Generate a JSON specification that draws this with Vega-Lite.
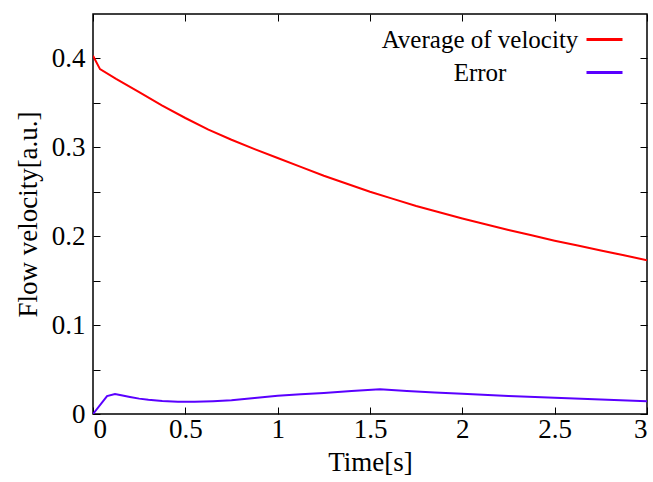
{
  "$schema": "https://vega.github.io/schema/vega-lite/v6.json",
  "width": 554,
  "height": 400,
  "autosize": {"type": "none"},
  "padding": {"left": 93, "top": 14, "right": 6, "bottom": 68},
  "background": "white",
  "config": {
    "view": {"stroke": "#000000", "strokeWidth": 1.5},
    "font": "Liberation Serif",
    "axis": {
      "domain": false,
      "grid": false,
      "tickColor": "#000000",
      "tickWidth": 1,
      "tickSize": -7,
      "labelFont": "Liberation Serif",
      "labelFontSize": 27,
      "labelColor": "#000000",
      "titleFont": "Liberation Serif",
      "titleFontSize": 27,
      "titleFontWeight": "normal",
      "titleColor": "#000000"
    }
  },
  "data": {
    "values": [
      {"t": 0, "v": 0.403, "series": "Average of velocity"},
      {"t": 0.038, "v": 0.388, "series": "Average of velocity"},
      {"t": 0.125, "v": 0.377, "series": "Average of velocity"},
      {"t": 0.25, "v": 0.362, "series": "Average of velocity"},
      {"t": 0.375, "v": 0.347, "series": "Average of velocity"},
      {"t": 0.5, "v": 0.333, "series": "Average of velocity"},
      {"t": 0.625, "v": 0.32, "series": "Average of velocity"},
      {"t": 0.75, "v": 0.3085, "series": "Average of velocity"},
      {"t": 0.875, "v": 0.298, "series": "Average of velocity"},
      {"t": 1.0, "v": 0.288, "series": "Average of velocity"},
      {"t": 1.125, "v": 0.278, "series": "Average of velocity"},
      {"t": 1.25, "v": 0.268, "series": "Average of velocity"},
      {"t": 1.375, "v": 0.259, "series": "Average of velocity"},
      {"t": 1.5, "v": 0.25, "series": "Average of velocity"},
      {"t": 1.625, "v": 0.242, "series": "Average of velocity"},
      {"t": 1.75, "v": 0.234, "series": "Average of velocity"},
      {"t": 1.875, "v": 0.227, "series": "Average of velocity"},
      {"t": 2.0, "v": 0.22, "series": "Average of velocity"},
      {"t": 2.125, "v": 0.2135, "series": "Average of velocity"},
      {"t": 2.25, "v": 0.207, "series": "Average of velocity"},
      {"t": 2.375, "v": 0.201, "series": "Average of velocity"},
      {"t": 2.5, "v": 0.195, "series": "Average of velocity"},
      {"t": 2.625, "v": 0.1895, "series": "Average of velocity"},
      {"t": 2.75, "v": 0.184, "series": "Average of velocity"},
      {"t": 2.875, "v": 0.1785, "series": "Average of velocity"},
      {"t": 3.0, "v": 0.173, "series": "Average of velocity"},
      {"t": 0, "v": 0, "series": "Error"},
      {"t": 0.076, "v": 0.0202, "series": "Error"},
      {"t": 0.119, "v": 0.0225, "series": "Error"},
      {"t": 0.16, "v": 0.0208, "series": "Error"},
      {"t": 0.2, "v": 0.0192, "series": "Error"},
      {"t": 0.25, "v": 0.0173, "series": "Error"},
      {"t": 0.3, "v": 0.016, "series": "Error"},
      {"t": 0.375, "v": 0.0145, "series": "Error"},
      {"t": 0.46, "v": 0.0137, "series": "Error"},
      {"t": 0.55, "v": 0.0137, "series": "Error"},
      {"t": 0.65, "v": 0.0144, "series": "Error"},
      {"t": 0.75, "v": 0.0155, "series": "Error"},
      {"t": 0.875, "v": 0.018, "series": "Error"},
      {"t": 1.0, "v": 0.0205, "series": "Error"},
      {"t": 1.125, "v": 0.0222, "series": "Error"},
      {"t": 1.25, "v": 0.0237, "series": "Error"},
      {"t": 1.4, "v": 0.0258, "series": "Error"},
      {"t": 1.554, "v": 0.0278, "series": "Error"},
      {"t": 1.7, "v": 0.026, "series": "Error"},
      {"t": 1.85, "v": 0.0242, "series": "Error"},
      {"t": 2.0, "v": 0.0227, "series": "Error"},
      {"t": 2.25, "v": 0.0203, "series": "Error"},
      {"t": 2.5, "v": 0.0182, "series": "Error"},
      {"t": 2.75, "v": 0.0162, "series": "Error"},
      {"t": 3.0, "v": 0.0143, "series": "Error"}
    ]
  },
  "layer": [
    {
      "mark": {"type": "line", "strokeWidth": 2, "clip": true},
      "encoding": {
        "x": {
          "field": "t", "type": "quantitative",
          "scale": {"domain": [0, 3], "nice": false, "zero": false},
          "axis": {"orient": "bottom", "title": "Time[s]", "values": [0, 0.5, 1, 1.5, 2, 2.5, 3], "format": ".1~f", "labelPadding": 9, "titlePadding": 7}
        },
        "y": {
          "field": "v", "type": "quantitative",
          "scale": {"domain": [0, 0.45], "nice": false},
          "axis": {"orient": "left", "title": "Flow velocity[a.u.]", "values": [0, 0.05, 0.1, 0.15, 0.2, 0.25, 0.3, 0.35, 0.4], "format": ".2~f",
                   "labelExpr": "round(datum.value*20) % 2 == 0 ? datum.label : ''", "labelPadding": 15, "titlePadding": 9}
        },
        "color": {
          "field": "series", "type": "nominal",
          "scale": {"domain": ["Average of velocity", "Error"], "range": ["#ff0000", "#5a00ff"]},
          "legend": {
            "title": null,
            "orient": "none",
            "legendX": 492,
            "legendY": 6,
            "symbolType": "stroke",
            "symbolSize": 1296,
            "symbolStrokeWidth": 3,
            "labelFont": "Liberation Serif",
            "labelFontSize": 25,
            "labelLimit": 0,
            "labelColor": "#000000",
            "rowPadding": -14,
            "encode": {
              "symbols": {"update": {"stroke": {"signal": "datum.value === 'Error' ? '#0030ff' : '#ff2000'"}}},
              "labels": {"update": {"x": {"value": -105}, "align": {"value": "center"}}}
            }
          }
        }
      }
    },
    {
      "mark": {"type": "line", "strokeOpacity": 0},
      "encoding": {
        "x": {"field": "t", "type": "quantitative", "axis": {"orient": "top", "title": null, "labels": false, "values": [0, 0.5, 1, 1.5, 2, 2.5, 3]}},
        "y": {"field": "v", "type": "quantitative", "axis": {"orient": "right", "title": null, "labels": false, "values": [0, 0.05, 0.1, 0.15, 0.2, 0.25, 0.3, 0.35, 0.4]}},
        "detail": {"field": "series"}
      }
    }
  ]
}
